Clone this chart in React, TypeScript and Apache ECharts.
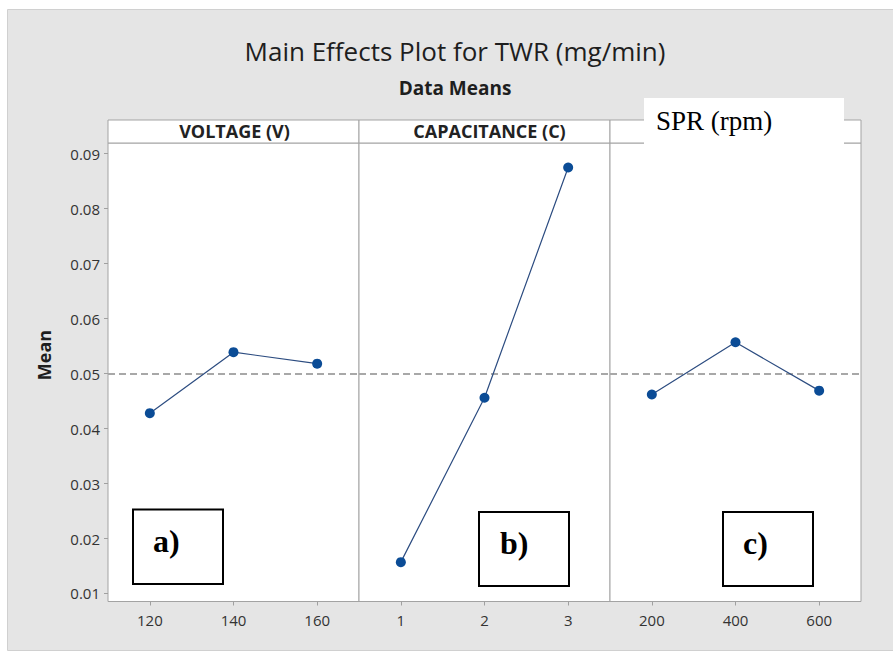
import React, { useEffect, useRef } from 'react';
import * as echarts from 'echarts';

// ---- data ----
const VOLTAGE_CATS = ['120', '140', '160'];
const VOLTAGE_MEANS = [0.0428, 0.0539, 0.0518];
const CAP_CATS = ['1', '2', '3'];
const CAP_MEANS = [0.0157, 0.0456, 0.0875];
const SPR_CATS = ['200', '400', '600'];
const SPR_MEANS = [0.0462, 0.0557, 0.0469];
const Y_TICKS = [0.01, 0.02, 0.03, 0.04, 0.05, 0.06, 0.07, 0.08, 0.09];
const GRAND_MEAN = 0.0495;
const Y_MIN = 0.00854;
const Y_MAX = 0.09195;
const PANEL_TITLES = ['VOLTAGE (V)', 'CAPACITANCE (C)', ''];
const TITLE = 'Main Effects Plot for TWR (mg/min)';
const SUBTITLE = 'Data Means';
const Y_NAME = 'Mean';
const OVERLAY_LABEL = 'SPR (rpm)';
const PANEL_TAGS = ['a)', 'b)', 'c)'];

const FONT = "'Open Sans', 'Noto Sans', sans-serif";
const SERIF = "'Liberation Serif', 'DejaVu Serif', serif";

export default function App() {
  const ref = useRef<HTMLDivElement>(null);

  useEffect(() => {
    document.body.style.margin = '0';
    const chart = echarts.init(ref.current!, null, { renderer: 'svg' });

    const panels = [
      { cats: VOLTAGE_CATS, vals: VOLTAGE_MEANS },
      { cats: CAP_CATS, vals: CAP_MEANS },
      { cats: SPR_CATS, vals: SPR_MEANS },
    ];
    const left0 = 108;
    const pw = 251;
    const top = 143;
    const h = 458.5;
    const headerTop = 120;

    const grids = panels.map((_, i) => ({
      left: left0 + i * pw,
      top,
      width: pw,
      height: h,
      show: true,
      backgroundColor: '#ffffff',
      borderColor: '#a3a3a3',
      borderWidth: 1,
      containLabel: false,
    }));

    const xAxes = panels.map((p, i) => ({
      type: 'category',
      gridIndex: i,
      data: p.cats,
      boundaryGap: true,
      axisLine: { show: false },
      axisTick: { show: true, alignWithLabel: true, length: 4, lineStyle: { color: '#a0a0a0' } },
      axisLabel: { fontFamily: FONT, fontSize: 15, color: '#333333', margin: 11 },
      splitLine: { show: false },
    }));

    const yAxes = panels.map((_, i) => ({
      type: 'value',
      gridIndex: i,
      min: Y_MIN,
      max: Y_MAX,
      show: i === 0,
      axisLine: { show: false },
      axisTick: {
        show: true,
        length: 4,
        customValues: Y_TICKS,
        lineStyle: { color: '#a0a0a0' },
      },
      axisLabel: {
        show: true,
        customValues: Y_TICKS,
        fontFamily: FONT,
        fontSize: 15,
        color: '#333333',
        margin: 8,
        formatter: (v: number) => v.toFixed(2),
      },
      splitLine: { show: false },
    }));

    const series = panels.map((p, i) => ({
      type: 'line',
      xAxisIndex: i,
      yAxisIndex: i,
      data: p.vals,
      symbol: 'circle',
      symbolSize: 10,
      itemStyle: { color: '#0b4c96' },
      lineStyle: { color: '#2c4c80', width: 1.2 },
      z: 5,
      markLine: {
        silent: true,
        symbol: 'none',
        label: { show: false },
        lineStyle: { color: '#a8a8a8', type: [7, 4], width: 2 },
        data: [{ yAxis: GRAND_MEAN }],
        z: 3,
      },
    }));

    const headerEls: any[] = [];
    panels.forEach((_, i) => {
      headerEls.push({
        type: 'rect',
        z: 1,
        shape: { x: left0 + i * pw, y: headerTop, width: pw, height: top - headerTop },
        style: { fill: '#ffffff', stroke: '#a3a3a3', lineWidth: 1 },
      });
      if (PANEL_TITLES[i]) {
        headerEls.push({
          type: 'text',
          z: 2,
          x: left0 + i * pw + pw / 2 + (i === 1 ? 5 : 1),
          y: 131,
          style: {
            text: PANEL_TITLES[i],
            fontFamily: FONT,
            fontSize: 18,
            fontWeight: 'bold',
            fill: '#222222',
            textAlign: 'center',
            textVerticalAlign: 'middle',
          },
        });
      }
    });

    const tagBoxes = [
      { x: 133, y: 509.5, w: 90, h: 74.5, tx: 153, ty: 541 },
      { x: 479, y: 512, w: 90, h: 74, tx: 500, ty: 543 },
      { x: 723, y: 512, w: 90, h: 74, tx: 743, ty: 543 },
    ];
    const tagEls: any[] = [];
    tagBoxes.forEach((b, i) => {
      tagEls.push({
        type: 'rect',
        z: 20,
        shape: { x: b.x, y: b.y, width: b.w, height: b.h },
        style: { fill: '#ffffff', stroke: '#000000', lineWidth: 2 },
      });
      tagEls.push({
        type: 'text',
        z: 21,
        x: b.tx,
        y: b.ty,
        style: {
          text: PANEL_TAGS[i],
          fontFamily: SERIF,
          fontSize: 32,
          fontWeight: 'bold',
          fill: '#000000',
          textAlign: 'left',
          textVerticalAlign: 'middle',
        },
      });
    });

    const option: any = {
      animation: false,
      backgroundColor: '#ffffff',
      grid: grids,
      xAxis: xAxes,
      yAxis: yAxes,
      series,
      graphic: [
        {
          type: 'rect',
          z: -100,
          silent: true,
          shape: { x: 7.5, y: 9.5, width: 886, height: 641 },
          style: { fill: '#e5e5e5', stroke: '#d0d0d0', lineWidth: 1 },
        },
        {
          type: 'text',
          z: 2,
          x: 455,
          y: 51,
          style: {
            text: TITLE,
            fontFamily: FONT,
            fontSize: 26,
            fill: '#1e1e1e',
            textAlign: 'center',
            textVerticalAlign: 'middle',
          },
        },
        {
          type: 'text',
          z: 2,
          x: 455,
          y: 88,
          style: {
            text: SUBTITLE,
            fontFamily: FONT,
            fontSize: 19,
            fontWeight: 'bold',
            fill: '#1e1e1e',
            textAlign: 'center',
            textVerticalAlign: 'middle',
          },
        },
        {
          type: 'text',
          z: 2,
          x: 44,
          y: 355,
          rotation: Math.PI / 2,
          style: {
            text: Y_NAME,
            fontFamily: FONT,
            fontSize: 18,
            fontWeight: 'bold',
            fill: '#1e1e1e',
            textAlign: 'center',
            textVerticalAlign: 'middle',
          },
        },
        ...headerEls,
        {
          type: 'rect',
          z: 30,
          shape: { x: 644, y: 98, width: 200, height: 60 },
          style: { fill: '#ffffff', lineWidth: 0 },
        },
        {
          type: 'text',
          z: 31,
          x: 656,
          y: 120.5,
          style: {
            text: OVERLAY_LABEL,
            fontFamily: SERIF,
            fontSize: 27,
            fill: '#000000',
            textAlign: 'left',
            textVerticalAlign: 'middle',
          },
        },
        ...tagEls,
      ],
    };

    chart.setOption(option);
    return () => chart.dispose();
  }, []);

  return <div ref={ref} style={{ width: 893, height: 652 }} />;
}
